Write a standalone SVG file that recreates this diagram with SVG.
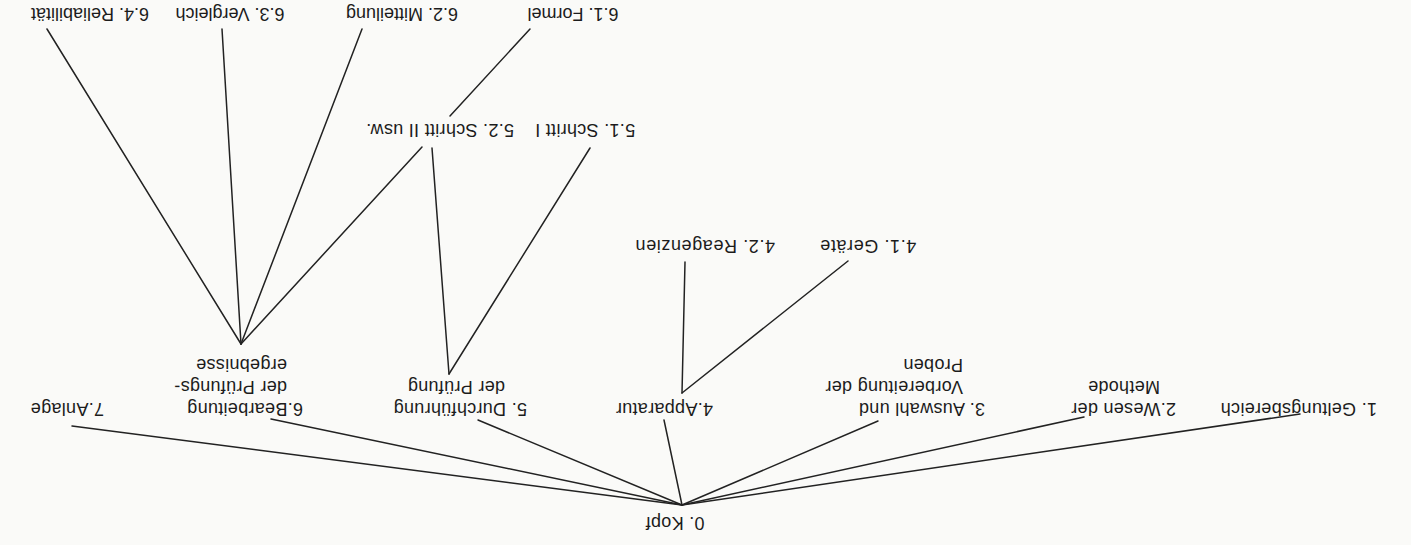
<svg xmlns="http://www.w3.org/2000/svg" width="1411" height="545" viewBox="0 0 1411 545">
<style>
  text { font-family: "Liberation Sans", Arial, sans-serif; font-size: 18px; fill: #1c1c1c; letter-spacing: 0.3px; }
  .c { text-anchor: middle; }
  .top { letter-spacing: 0px; }
  .mid { letter-spacing: 0.6px; }
  #connectors line { stroke: #222; stroke-width: 1.5; stroke-linecap: round; }
</style>
<rect width="1411" height="545" fill="#fafaf8"/>
<g id="connectors">
  <line x1="682" y1="505" x2="1300" y2="414"/>
  <line x1="682" y1="505" x2="1084" y2="417"/>
  <line x1="682" y1="505" x2="878" y2="421"/>
  <line x1="682" y1="505" x2="664" y2="420"/>
  <line x1="682" y1="505" x2="478" y2="420"/>
  <line x1="682" y1="505" x2="271" y2="419"/>
  <line x1="682" y1="505" x2="72" y2="426"/>
  <line x1="682" y1="393" x2="685" y2="262"/>
  <line x1="682" y1="393" x2="848" y2="261"/>
  <line x1="449" y1="374" x2="590" y2="148"/>
  <line x1="449" y1="374" x2="432" y2="148"/>
  <line x1="241" y1="344" x2="422" y2="147"/>
  <line x1="450" y1="116" x2="530" y2="29"/>
  <line x1="241" y1="344" x2="362" y2="29"/>
  <line x1="241" y1="344" x2="222" y2="29"/>
  <line x1="241" y1="344" x2="47" y2="29"/>
</g>
<g id="n0" transform="translate(675,517) rotate(180)"><text class="c" x="0" y="0">0. Kopf</text></g>
<g id="n1" transform="translate(1377,403) rotate(180)"><text x="0" y="0">1. Geltungsbereich</text></g>
<g id="n2" transform="translate(1176,403) rotate(180)"><text><tspan x="0" y="0">2.Wesen der</tspan><tspan x="16" y="22">Methode</tspan></text></g>
<g id="n3" transform="translate(985,403) rotate(180)"><text><tspan x="0" y="0">3. Auswahl und</tspan><tspan x="22" y="22">Vorbereitung der</tspan><tspan x="22" y="44">Proben</tspan></text></g>
<g id="n4" transform="translate(713,403) rotate(180)"><text x="0" y="0">4.Apparatur</text></g>
<g id="n5" transform="translate(527,403) rotate(180)"><text><tspan x="0" y="0">5. Durchführung</tspan><tspan x="22" y="22">der Prüfung</tspan></text></g>
<g id="n6" transform="translate(303,403) rotate(180)"><text><tspan x="0" y="0">6.Bearbeitung</tspan><tspan x="16" y="22">der Prüfungs-</tspan><tspan x="16" y="44">ergebnisse</tspan></text></g>
<g id="n7" transform="translate(104,403) rotate(180)"><text x="0" y="0">7.Anlage</text></g>
<g id="n41" transform="translate(868,240) rotate(180)"><text class="c mid" x="0" y="0">4.1. Geräte</text></g>
<g id="n42" transform="translate(705,240) rotate(180)"><text class="c mid" x="0" y="0">4.2. Reagenzien</text></g>
<g id="n51" transform="translate(585,124) rotate(180)"><text class="c" x="0" y="0">5.1. Schritt I</text></g>
<g id="n52" transform="translate(440,124) rotate(180)"><text class="c" x="0" y="0">5.2. Schritt II usw.</text></g>
<g id="n61" transform="translate(573,8) rotate(180)"><text class="c top" x="0" y="0">6.1. Formel</text></g>
<g id="n62" transform="translate(402,8) rotate(180)"><text class="c top" x="0" y="0">6.2. Mitteilung</text></g>
<g id="n63" transform="translate(230,8) rotate(180)"><text class="c top" x="0" y="0">6.3. Vergleich</text></g>
<g id="n64" transform="translate(90,8) rotate(180)"><text class="c top" x="0" y="0">6.4. Reliabilität</text></g>
</svg>
